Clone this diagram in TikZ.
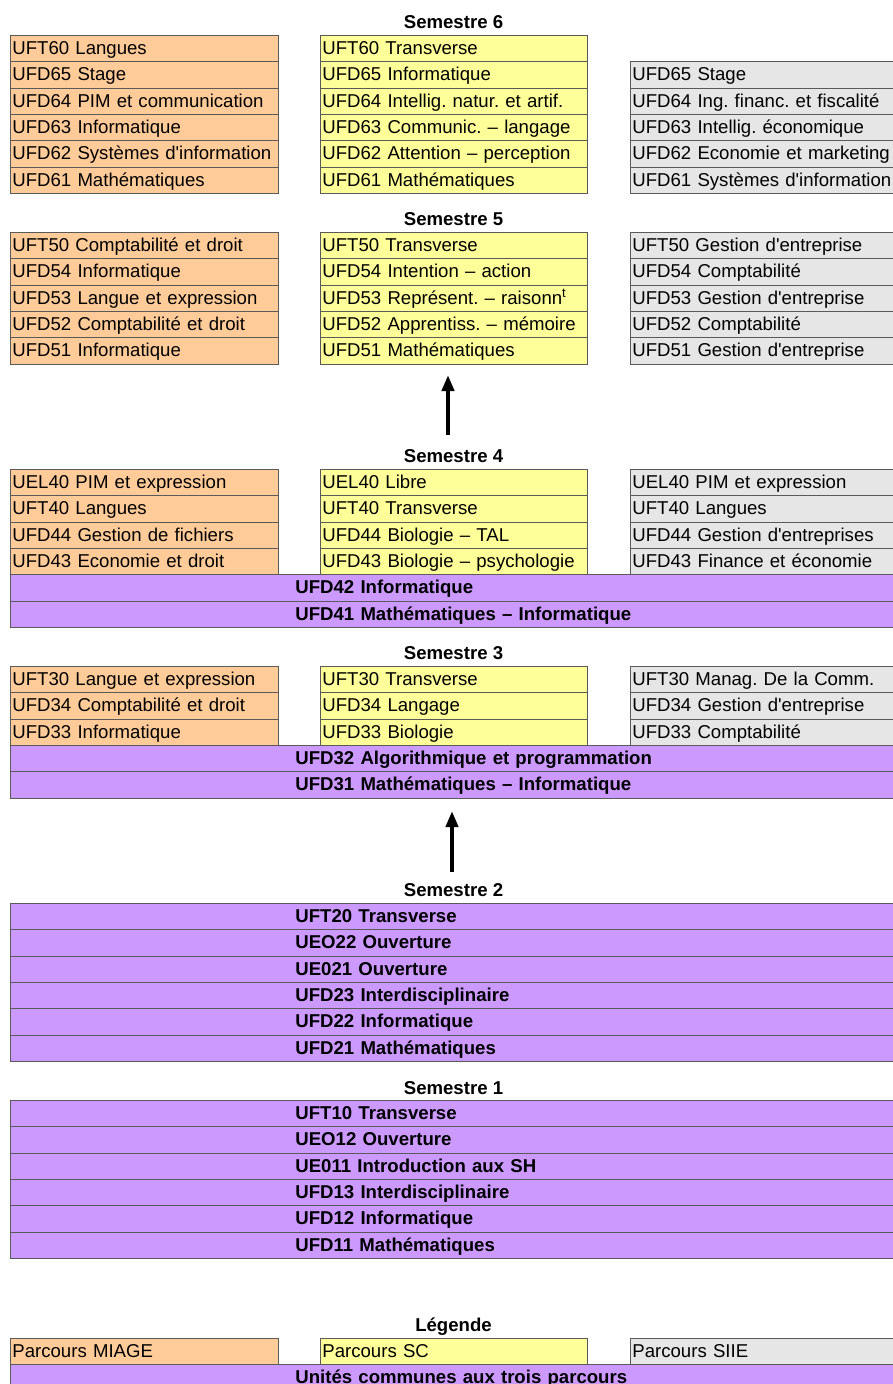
\documentclass[tikz,border=0pt]{standalone}
\usepackage{fontspec}
\setmainfont{Liberation Sans}
\usetikzlibrary{arrows.meta}
\definecolor{miage}{HTML}{FFCC99}
\definecolor{scol}{HTML}{FFFF99}
\definecolor{siie}{HTML}{E6E6E6}
\definecolor{common}{HTML}{CC99FF}
\definecolor{bord}{HTML}{5A5A5A}
\newcommand{\cellfont}{\fontsize{18.6}{22}\selectfont}
\newcommand{\titfont}{\fontsize{18.6}{22}\selectfont\bfseries}
\newcommand{\q}{\textquotesingle}
\frenchspacing
\tikzset{
  cell/.style={draw=bord, line width=0.8pt, rectangle, anchor=north west,
    minimum height=26.33pt, inner xsep=2pt, inner ysep=0pt, align=left,
    text height=16pt, text depth=4pt, font=\cellfont},
  mi/.style={cell, fill=miage, text width=264pt},
  sc/.style={cell, fill=scol, text width=263pt},
  si/.style={cell, fill=siie, text width=266pt},
  com/.style={cell, fill=common, text width=886pt, font=\titfont},
  semtitle/.style={anchor=base, inner sep=0pt, font=\titfont},
  bigarrow/.style={line width=4.5pt, -{Triangle[length=16pt,width=12pt]}}
}
\newcommand{\ctext}[1]{\noindent\hspace*{283pt}#1}
\begin{document}
\begin{tikzpicture}[x=1pt,y=-1pt]
\useasboundingbox (0,0) rectangle (893,1384);
\def\h{26.33}
% ---------- Semestre 6
\node[semtitle] (t6) at (453.5,28.5) {Semestre 6};
\foreach \t [count=\i] in {UFT60 Langues,UFD65 Stage,UFD64 PIM et communication,UFD63 Informatique,UFD62 Systèmes d\q information,UFD61 Mathématiques}
  \node[mi] (o6-\i) at (10,{35+(\i-1)*\h}) {\t};
\foreach \t [count=\i] in {UFT60 Transverse,UFD65 Informatique,UFD64 Intellig. natur. et artif.,UFD63 Communic. -- langage,UFD62 Attention -- perception,UFD61 Mathématiques}
  \node[sc] (y6-\i) at (320,{35+(\i-1)*\h}) {\t};
\foreach \t [count=\i] in {UFD65 Stage,UFD64 Ing. financ. et fiscalité,UFD63 Intellig. économique,UFD62 Economie et marketing,UFD61 Systèmes d\q information}
  \node[si] (g6-\i) at (630,{35+\i*\h}) {\t};
% ---------- Semestre 5
\node[semtitle] (t5) at (453.5,225.5) {Semestre 5};
\foreach \t [count=\i] in {UFT50 Comptabilité et droit,UFD54 Informatique,UFD53 Langue et expression,UFD52 Comptabilité et droit,UFD51 Informatique}
  \node[mi] (o5-\i) at (10,{232+(\i-1)*\h}) {\t};
\foreach \t [count=\i] in {UFT50 Transverse,UFD54 Intention -- action,UFD53 Représent. -- raisonn\textsuperscript{t},UFD52 Apprentiss. -- mémoire,UFD51 Mathématiques}
  \node[sc] (y5-\i) at (320,{232+(\i-1)*\h}) {\t};
\foreach \t [count=\i] in {UFT50 Gestion d\q entreprise,UFD54 Comptabilité,UFD53 Gestion d\q entreprise,UFD52 Comptabilité,UFD51 Gestion d\q entreprise}
  \node[si] (g5-\i) at (630,{232+(\i-1)*\h}) {\t};
% ---------- Semestre 4
\node[semtitle] (t4) at (453.5,462.5) {Semestre 4};
\foreach \t [count=\i] in {UEL40 PIM et expression,UFT40 Langues,UFD44 Gestion de fichiers,UFD43 Economie et droit}
  \node[mi] (o4-\i) at (10,{469+(\i-1)*\h}) {\t};
\foreach \t [count=\i] in {UEL40 Libre,UFT40 Transverse,UFD44 Biologie -- TAL,UFD43 Biologie -- psychologie}
  \node[sc] (y4-\i) at (320,{469+(\i-1)*\h}) {\t};
\foreach \t [count=\i] in {UEL40 PIM et expression,UFT40 Langues,UFD44 Gestion d\q entreprises,UFD43 Finance et économie}
  \node[si] (g4-\i) at (630,{469+(\i-1)*\h}) {\t};
\foreach \t [count=\i] in {UFD42 Informatique,UFD41 Mathématiques -- Informatique}
  \node[com] (c4-\i) at (10,{469+(\i+3)*\h}) {\ctext{\t}};
% ---------- Semestre 3
\node[semtitle] (t3) at (453.5,659.5) {Semestre 3};
\foreach \t [count=\i] in {UFT30 Langue et expression,UFD34 Comptabilité et droit,UFD33 Informatique}
  \node[mi] (o3-\i) at (10,{666+(\i-1)*\h}) {\t};
\foreach \t [count=\i] in {UFT30 Transverse,UFD34 Langage,UFD33 Biologie}
  \node[sc] (y3-\i) at (320,{666+(\i-1)*\h}) {\t};
\foreach \t [count=\i] in {UFT30 Manag. De la Comm.,UFD34 Gestion d\q entreprise,UFD33 Comptabilité}
  \node[si] (g3-\i) at (630,{666+(\i-1)*\h}) {\t};
\foreach \t [count=\i] in {UFD32 Algorithmique et programmation,UFD31 Mathématiques -- Informatique}
  \node[com] (c3-\i) at (10,{666+(\i+2)*\h}) {\ctext{\t}};
% ---------- Semestre 2
\node[semtitle] (t2) at (453.5,896.5) {Semestre 2};
\foreach \t [count=\i] in {UFT20 Transverse,UEO22 Ouverture,UE021 Ouverture,UFD23 Interdisciplinaire,UFD22 Informatique,UFD21 Mathématiques}
  \node[com] (c2-\i) at (10,{903+(\i-1)*\h}) {\ctext{\t}};
% ---------- Semestre 1
\node[semtitle] (t1) at (453.5,1094.5) {Semestre 1};
\foreach \t [count=\i] in {UFT10 Transverse,UEO12 Ouverture,UE011 Introduction aux SH,UFD13 Interdisciplinaire,UFD12 Informatique,UFD11 Mathématiques}
  \node[com] (c1-\i) at (10,{1100+(\i-1)*\h}) {\ctext{\t}};
% ---------- Legende
\node[semtitle] (tl) at (453.5,1331.5) {Légende};
\node[mi] (lmi) at (10,1338) {Parcours MIAGE};
\node[sc] (lsc) at (320,1338) {Parcours SC};
\node[si] (lsi) at (630,1338) {Parcours SIIE};
\node[com] (lcom) at (10,{1338+\h}) {\ctext{Unités communes aux trois parcours}};
% ---------- Arrows
\coordinate (a1s) at (448,435);
\coordinate (a1e) at (448,375);
\coordinate (a2s) at (452,872);
\coordinate (a2e) at (452,811);
\draw[bigarrow] (a1s) -- (a1e);
\draw[bigarrow] (a2s) -- (a2e);
\end{tikzpicture}
\end{document}
